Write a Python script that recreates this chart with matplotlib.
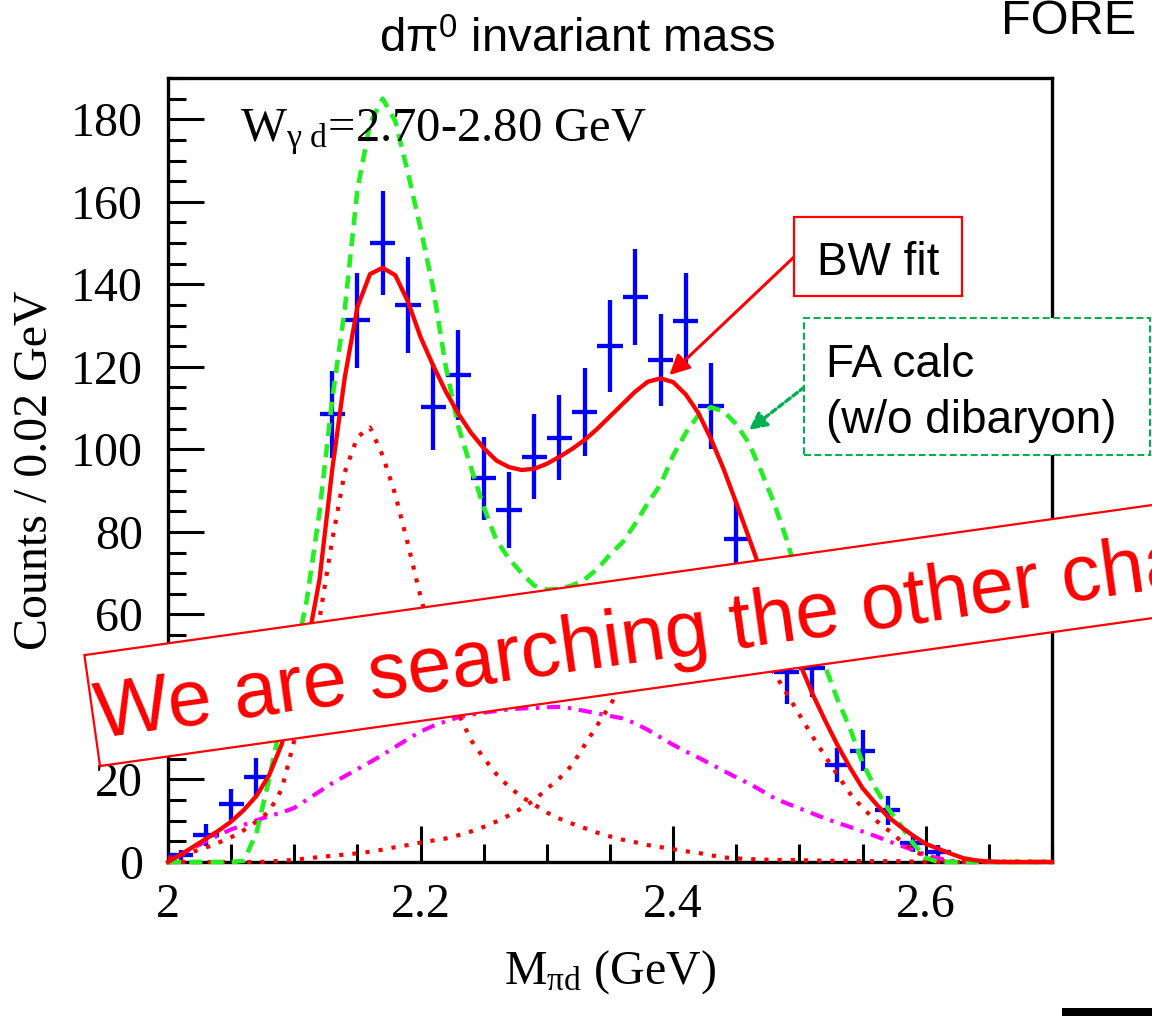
import numpy as np
import matplotlib
matplotlib.use('Agg')
import matplotlib.pyplot as plt
import matplotlib.transforms as mtransforms
from matplotlib.patches import Rectangle
from matplotlib.ticker import MultipleLocator, FuncFormatter

plt.rcParams['font.family'] = 'Liberation Serif'
plt.rcParams['mathtext.fontset'] = 'custom'
plt.rcParams['mathtext.rm'] = 'Liberation Serif'
plt.rcParams['mathtext.it'] = 'Liberation Serif:italic'
plt.rcParams['mathtext.bf'] = 'Liberation Serif:bold'
plt.rcParams['mathtext.sf'] = 'Liberation Sans'
plt.rcParams['lines.scale_dashes'] = False

# d pi0 invariant mass spectrum, 0.02 GeV bins
bin_centers = [2.01, 2.03, 2.05, 2.07, 2.09, 2.11, 2.13, 2.15, 2.17, 2.19, 2.21,
               2.23, 2.25, 2.27, 2.29, 2.31, 2.33, 2.35, 2.37, 2.39, 2.41, 2.43,
               2.45, 2.47, 2.49, 2.51, 2.53, 2.55, 2.57, 2.59, 2.61]
counts = [1.7, 6.5, 14.0, 20.5, 38.0, 50.0, 108.5, 131.3, 150.0, 135.0, 110.3,
          118.0, 93.0, 85.4, 98.2, 102.8, 109.1, 125.0, 136.9, 121.6, 131.1, 110.5,
          78.3, 62.0, 46.0, 47.0, 23.5, 27.0, 12.5, 4.5, 2.5]
count_errs = [1.3, 2.6, 3.8, 4.6, 6.0, 7.0, 10.5, 11.5, 12.5, 11.7, 10.5,
              11.0, 10.0, 9.2, 10.3, 10.3, 10.7, 11.2, 11.7, 11.2, 11.7, 10.4,
              9.3, 8.0, 7.7, 7.0, 4.2, 5.0, 3.6, 2.1, 1.5]

# model curves on a 0.01 GeV grid from 2.00 to 2.70
m_grid = np.round(np.arange(2.00, 2.705, 0.01), 2)
bw_fit = [0, 1.8, 3.7, 5.6, 7.6, 9.8, 12.6, 16.0, 21.0, 28.5,
          41.0, 52.0, 68.5, 95.0, 117.5, 134.5, 142.5, 144.0, 142.2, 135.8,
          127.2, 120.3, 114.0, 108.6, 104.0, 100.3, 97.3, 95.7, 95.0, 95.3,
          96.5, 98.2, 100.1, 102.3, 105.0, 108.0, 111.0, 114.0, 116.4, 117.2,
          116.3, 113.3, 108.8, 102.5, 95.2, 87.0, 78.6, 70.0, 62.0, 54.5,
          48.3, 41.0, 34.5, 28.4, 22.9, 17.9, 14.3, 11.0, 8.6, 6.4,
          4.4, 3.2, 2.0, 0.9, 0.4, 0.1, 0, 0, 0, 0, 0]
fa_calc = [0, 0, 0, 0, 0, 0, 0.3, 7.0, 20.0, 34.7,
           48.5, 63.7, 84.9, 112.0, 134.0, 163.0, 179.0, 185.0, 179.5, 167.0,
           153.5, 139.0, 120.0, 105.4, 95.5, 86.0, 78.0, 73.5, 70.0, 67.0,
           66.0, 66.2, 67.0, 68.5, 71.0, 74.5, 77.5, 82.0, 87.0, 91.5,
           98.5, 104.0, 108.3, 110.2, 109.2, 106.1, 101.5, 94.5, 86.9, 78.0,
           67.5, 57.6, 47.7, 39.5, 32.4, 24.0, 18.0, 13.0, 9.0, 4.5,
           1.0, 0, 0, 0, 0, 0, 0, 0, 0, 0, 0]
bw_low = [1.0, 1.6, 2.5, 3.5, 4.7, 6.0, 7.7, 9.8, 12.2, 17.6,
          29.5, 44.0, 59.0, 78.0, 94.5, 103.0, 105.3, 98.5, 89.0, 77.0,
          64.3, 53.0, 44.0, 36.0, 29.5, 25.2, 21.3, 18.2, 15.8, 13.9,
          12.0, 10.5, 9.3, 8.2, 7.1, 6.2, 5.4, 4.8, 4.1, 3.6,
          3.1, 2.6, 2.2, 1.6, 1.1, 0.9, 0.7, 0.6, 0.5, 0.5,
          0.4, 0.4, 0.3, 0.3, 0.3, 0.2, 0.2, 0.2, 0.2, 0.1,
          0.1, 0.1, 0.1, 0.1, 0.1, 0.1, 0.1, 0.1, 0.1, 0.1, 0.1]
bw_high = [0, 0, 0, 0, 0, 0, 0, 0, 0.1, 0.3,
           0.5, 0.9, 1.2, 1.5, 1.8, 2.1, 2.5, 3.0, 3.6, 4.1,
           4.7, 5.2, 5.7, 6.5, 7.4, 8.5, 9.8, 11.3, 13.0, 15.0,
           17.7, 20.3, 23.5, 28.4, 33.2, 38.0, 43.0, 47.3, 51.0, 54.0,
           56.0, 57.5, 58.0, 57.5, 56.0, 54.0, 51.5, 49.0, 45.8, 40.8,
           35.7, 30.6, 25.8, 21.2, 16.6, 13.1, 10.2, 7.8, 5.2, 2.8,
           1.3, 0.3, 0, 0, 0, 0, 0, 0, 0, 0, 0]
phase_space = [0, 1.8, 3.4, 5.0, 6.5, 7.9, 9.0, 10.1, 11.1, 12.0,
               13.1, 15.1, 17.1, 19.1, 20.8, 22.5, 24.2, 26.0, 27.9, 29.8,
               31.6, 33.0, 34.1, 35.1, 35.7, 36.2, 36.6, 37.0, 37.2, 37.3,
               37.5, 37.6, 37.2, 36.6, 36.0, 35.4, 34.8, 33.6, 32.0, 30.2,
               28.4, 26.8, 25.3, 23.7, 22.1, 20.5, 19.0, 17.3, 15.5, 14.2,
               13.0, 11.8, 10.6, 9.5, 8.5, 7.4, 6.3, 5.1, 4.0, 2.9,
               1.7, 0.9, 0.3, 0, 0, 0, 0, 0, 0, 0, 0]

W, H = 1152, 1016
fig = plt.figure(figsize=(W / 100, H / 100), dpi=100)
ax = fig.add_axes([168 / W, 154 / H, 884 / W, 784 / H])
pix = mtransforms.IdentityTransform()

ax.errorbar(bin_centers, counts, xerr=0.01, yerr=count_errs, fmt='none',
            ecolor='#0000ff', elinewidth=3.1, capsize=0, zorder=3)

ax.plot(m_grid, phase_space, color='#ff00ff', lw=3.0, dashes=(9.5, 5.5, 2.5, 5.5),
        zorder=4, clip_on=False)
ax.plot(m_grid, bw_low, color='#ff0000', lw=3.0, dashes=(3, 6.5), zorder=4, clip_on=False)
ax.plot(m_grid, bw_high, color='#ff0000', lw=3.0, dashes=(3, 6.5), zorder=4, clip_on=False)
ax.plot(m_grid, fa_calc, color='#22f022', lw=3.3, dashes=(9.5, 5.8), zorder=5, clip_on=False)
ax.plot(m_grid, bw_fit, color='#ff0000', lw=3.1, zorder=6, clip_on=False)

ax.set_xlim(2.0, 2.7)
ax.set_ylim(0, 190)
ax.xaxis.set_major_locator(MultipleLocator(0.2))
ax.xaxis.set_minor_locator(MultipleLocator(0.05))
ax.yaxis.set_major_locator(MultipleLocator(20))
ax.yaxis.set_minor_locator(MultipleLocator(5))
ax.xaxis.set_major_formatter(FuncFormatter(lambda v, p: f'{v:g}'))
ax.tick_params(which='both', direction='in', width=2.2, labelsize=34.5)
ax.tick_params(which='major', length=26)
ax.tick_params(which='minor', length=13)
ax.tick_params(axis='y', pad=18)
ax.tick_params(axis='x', pad=15)
for s in ax.spines.values():
    s.set_linewidth(2.4)

ax.set_ylabel('Counts / 0.02 GeV', fontsize=34.5)
ax.yaxis.set_label_coords(-0.126, 0.5)
ax.set_xlabel(r'M$_{\mathrm{πd}}$ (GeV)', fontsize=34.5)
ax.xaxis.set_label_coords(0.5, -0.11)

ax.text(0.0814, 0.9188, r'W$_{\mathrm{γ\ d}}$=2.70-2.80 GeV', transform=ax.transAxes,
        fontsize=35, va='baseline', ha='left', zorder=7)

sans = 'Liberation Sans'
fig.text(577, H - 52, r'dπ$^{\mathsf{0}}$ invariant mass', transform=pix, family=sans,
         fontsize=34, ha='center', va='baseline')
fig.text(1001, H - 34, 'FORE', transform=pix, family=sans, fontsize=35,
         ha='left', va='baseline')
fig.add_artist(Rectangle((1062, 0), 90, 8, transform=pix, facecolor='black',
                         edgecolor='none'))

# callout boxes
fig.add_artist(Rectangle((794, H - 296), 168, 79, transform=pix, facecolor='white',
                         edgecolor='#ff0000', lw=1.6, zorder=8))
fig.text(878, H - 275, 'BW fit', transform=pix, family=sans, fontsize=33,
         ha='center', va='baseline', zorder=9)
ax.annotate('', xy=(2.397, 118), xycoords='data', xytext=(794, H - 257),
            textcoords='figure pixels', annotation_clip=False, zorder=9,
            arrowprops=dict(arrowstyle='-|>', color='#ff0000', lw=2.2,
                            mutation_scale=30, shrinkA=0, shrinkB=0))

fig.add_artist(Rectangle((804, H - 455), 346, 137, transform=pix, facecolor='white',
                         edgecolor='#00b050', lw=1.5, linestyle=(0, (5, 2.5)), zorder=8))
fig.text(826, H - 377, 'FA calc', transform=pix, family=sans, fontsize=33,
         ha='left', va='baseline', zorder=9)
fig.text(826, H - 433, '(w/o dibaryon)', transform=pix, family=sans, fontsize=33,
         ha='left', va='baseline', zorder=9)
ax.annotate('', xy=(2.46, 104.7), xycoords='data', xytext=(804.5, H - 387),
            textcoords='figure pixels', annotation_clip=False, zorder=9,
            arrowprops=dict(arrowstyle='-|>', color='#00b050', lw=2.4,
                            linestyle=(0, (4, 2.5)), mutation_scale=26,
                            shrinkA=0, shrinkB=0))

# slanted banner across the plot
fig.add_artist(Rectangle((100, H - 766), 1300, 112, angle=8, transform=pix,
                         facecolor='white', edgecolor='#ff0000', lw=1.6, zorder=10))
fig.text(99, H - 738, 'We are searching the other channels', transform=pix,
         family=sans, fontsize=57, color='#ff0000', rotation=8, rotation_mode='anchor',
         ha='left', va='baseline', zorder=11)

fig.savefig('out.png', dpi=100, facecolor='white')
